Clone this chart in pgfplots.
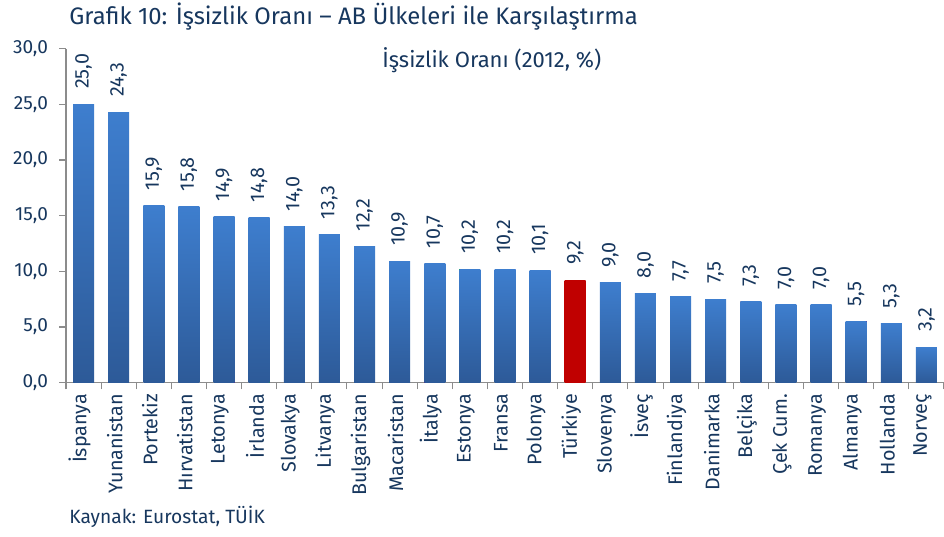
\documentclass[border=0pt]{standalone}
\usepackage{pgfplots}
\pgfplotsset{compat=1.18}
\usepackage{fontspec}
\setmainfont{Fira Sans}
\definecolor{txt}{RGB}{23,55,94}
\definecolor{bartop}{RGB}{62,126,206}
\definecolor{barbot}{RGB}{45,90,152}
\definecolor{trred}{RGB}{192,0,0}
\definecolor{axgray}{RGB}{140,140,140}
\begin{document}
\begin{tikzpicture}[x=1pt,y=1pt]
\useasboundingbox (-49.5pt,-115pt) rectangle (658.5pt,287pt);
\begin{axis}[
  scale only axis,
  width=658.5pt, height=250.5pt,
  xmin=-0.5, xmax=24.5,
  ymin=0, ymax=30,
  axis lines*=left,
  axis line style={draw=axgray, line width=0.8pt},
  ytick={0,5,...,30},
  xtick={0,...,24},
  xticklabels={İspanya,Yunanistan,Portekiz,Hırvatistan,Letonya,İrlanda,Slovakya,Litvanya,Bulgaristan,Macaristan,İtalya,Estonya,Fransa,Polonya,Türkiye,Slovenya,İsveç,Finlandiya,Danimarka,Belçika,Çek Cum.,Romanya,Almanya,Hollanda,Norveç},
  minor xtick={-0.5,0.5,...,24.5},
  tick align=outside,
  major x tick style={draw=none},
  minor x tick style={draw=axgray, line width=0.8pt},
  minor tick length=5pt,
  y tick style={draw=axgray, line width=0.8pt},
  major tick length=5pt,
  x tick label style={rotate=90, anchor=east, font=\fontsize{14.8}{15}\selectfont, text=txt, yshift=3pt},
  y tick label style={font=\fontsize{14.3}{15}\selectfont, text=txt, xshift=-5pt},
  yticklabel style={/pgf/number format/.cd, fixed, fixed zerofill, precision=1, use comma, assume math mode=true},
  ybar, bar width=15.75pt, bar shift=0pt,
  nodes near coords,
  every node near coord/.append style={rotate=90, anchor=west, xshift=8pt, font=\fontsize{14.8}{15}\selectfont, text=txt, /pgf/number format/.cd, fixed, fixed zerofill, precision=1, use comma, assume math mode=true},
  every axis plot/.append style={draw=none, top color=bartop, bottom color=barbot},
  clip=false,
]
\addplot coordinates {(0,25.0)};
\addplot coordinates {(1,24.3)};
\addplot coordinates {(2,15.9)};
\addplot coordinates {(3,15.8)};
\addplot coordinates {(4,14.9)};
\addplot coordinates {(5,14.8)};
\addplot coordinates {(6,14.0)};
\addplot coordinates {(7,13.3)};
\addplot coordinates {(8,12.2)};
\addplot coordinates {(9,10.9)};
\addplot coordinates {(10,10.7)};
\addplot coordinates {(11,10.2)};
\addplot coordinates {(12,10.2)};
\addplot coordinates {(13,10.1)};
\addplot[top color=trred, bottom color=trred] coordinates {(14,9.2)};
\addplot coordinates {(15,9.0)};
\addplot coordinates {(16,8.0)};
\addplot coordinates {(17,7.7)};
\addplot coordinates {(18,7.5)};
\addplot coordinates {(19,7.3)};
\addplot coordinates {(20,7.0)};
\addplot coordinates {(21,7.0)};
\addplot coordinates {(22,5.5)};
\addplot coordinates {(23,5.3)};
\addplot coordinates {(24,3.2)};
\node[anchor=west, text=txt, font=\fontsize{17.9}{18}\selectfont] at (axis description cs:0,1) [yshift=24pt, xshift=-1pt] {Grafik 10: İşsizlik Oranı – AB Ülkeleri ile Karşılaştırma};
\node[text=txt, font=\fontsize{16.5}{17}\selectfont] at (axis description cs:0.485,0.965) {İşsizlik Oranı (2012, \%)};
\node[anchor=west, text=txt, font=\fontsize{14.4}{15}\selectfont] at (axis description cs:0,0) [yshift=-100.5pt, xshift=-1pt] {Kaynak: Eurostat, TÜİK};
\end{axis}
\end{tikzpicture}
\end{document}
